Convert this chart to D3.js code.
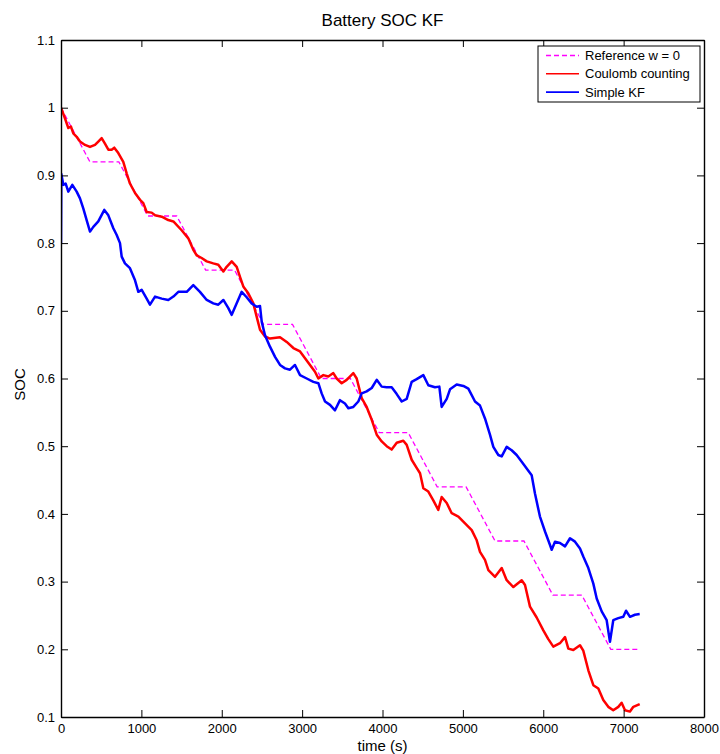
<!DOCTYPE html>
<html>
<head>
<meta charset="utf-8">
<script src="https://cdn.jsdelivr.net/npm/d3@7"></script>
<style>
  html, body { margin: 0; padding: 0; background: #fff; }
  text { font-family: "Liberation Sans", Arial, Helvetica, sans-serif; fill: #000; }
</style>
</head>
<body>
<svg id="chart" width="720" height="754"></svg>
<script>
// ---------- data ----------
const title = "Battery SOC KF";
const xLabel = "time (s)";
const yLabel = "SOC";
const xTicks = [0, 1000, 2000, 3000, 4000, 5000, 6000, 7000, 8000];
const yTicks = [0.1, 0.2, 0.3, 0.4, 0.5, 0.6, 0.7, 0.8, 0.9, 1, 1.1];
const seriesNames = ["Reference w = 0", "Coulomb counting", "Simple KF"];

// Reference (w = 0) breakpoints: [time, SOC]
const referenceSOC = [
  [0,1.00],[360,0.92],[720,0.92],[1080,0.84],[1440,0.84],[1800,0.76],[2160,0.76],
  [2520,0.68],[2880,0.68],[3240,0.60],[3600,0.60],[3960,0.52],[4320,0.52],
  [4680,0.44],[5040,0.44],[5400,0.36],[5760,0.36],[6120,0.28],[6480,0.28],
  [6840,0.20],[7200,0.20]
];

// Coulomb counting: [time, SOC]
const coulombSOC = [
  [0,1.000],[50,0.984],[91,0.970],[124,0.972],[153,0.962],[195,0.957],[236,0.950],
  [299,0.945],[361,0.942],[423,0.945],[464,0.950],[506,0.955],[547,0.947],[589,0.938],
  [630,0.938],[663,0.941],[713,0.933],[775,0.920],[817,0.903],[858,0.888],[921,0.874],
  [983,0.864],[1024,0.859],[1066,0.846],[1128,0.845],[1170,0.841],[1253,0.839],
  [1335,0.834],[1398,0.832],[1501,0.819],[1584,0.807],[1646,0.790],[1688,0.782],
  [1750,0.778],[1813,0.773],[1895,0.770],[1957,0.768],[2020,0.758],[2061,0.765],
  [2124,0.773],[2186,0.765],[2227,0.750],[2268,0.736],[2330,0.726],[2393,0.711],
  [2435,0.691],[2476,0.672],[2538,0.662],[2600,0.659],[2725,0.661],[2808,0.654],
  [2891,0.645],[2974,0.640],[3036,0.630],[3098,0.620],[3160,0.610],[3202,0.600],
  [3264,0.605],[3326,0.603],[3388,0.608],[3430,0.600],[3492,0.593],[3554,0.598],
  [3637,0.608],[3679,0.600],[3741,0.571],[3803,0.558],[3866,0.539],[3928,0.517],
  [3990,0.507],[4052,0.500],[4114,0.495],[4177,0.505],[4259,0.508],[4301,0.502],
  [4363,0.480],[4425,0.468],[4467,0.460],[4508,0.438],[4570,0.433],[4632,0.420],
  [4694,0.406],[4736,0.425],[4799,0.416],[4861,0.401],[4944,0.396],[5027,0.386],
  [5110,0.376],[5172,0.361],[5213,0.344],[5275,0.332],[5317,0.317],[5400,0.307],
  [5483,0.320],[5545,0.302],[5628,0.292],[5732,0.302],[5773,0.295],[5835,0.263],
  [5918,0.247],[6001,0.228],[6063,0.215],[6125,0.204],[6208,0.209],[6271,0.218],
  [6312,0.201],[6374,0.199],[6457,0.206],[6498,0.198],[6561,0.169],[6623,0.147],
  [6685,0.142],[6747,0.125],[6809,0.115],[6871,0.110],[6934,0.115],[6975,0.121],
  [7017,0.110],[7079,0.108],[7121,0.115],[7200,0.119]
];

// Simple KF: [time, SOC]
const kalmanSOC = [
  [0,0.800],[4,0.902],[29,0.886],[58,0.888],[91,0.876],[141,0.886],[195,0.876],
  [236,0.866],[278,0.851],[319,0.834],[361,0.817],[402,0.824],[464,0.832],[539,0.849],
  [589,0.841],[651,0.822],[693,0.812],[734,0.800],[755,0.780],[796,0.770],[858,0.763],
  [921,0.745],[962,0.728],[1004,0.731],[1066,0.718],[1107,0.709],[1170,0.721],
  [1253,0.718],[1335,0.716],[1398,0.721],[1460,0.728],[1564,0.728],[1646,0.738],
  [1729,0.728],[1813,0.716],[1895,0.711],[1957,0.709],[2020,0.716],[2082,0.704],
  [2124,0.694],[2186,0.711],[2248,0.728],[2310,0.720],[2372,0.711],[2435,0.706],
  [2476,0.707],[2497,0.684],[2538,0.664],[2600,0.647],[2663,0.632],[2725,0.620],
  [2787,0.615],[2849,0.613],[2911,0.620],[2974,0.605],[3057,0.600],[3140,0.595],
  [3202,0.593],[3243,0.578],[3285,0.566],[3347,0.561],[3409,0.553],[3471,0.568],
  [3533,0.563],[3575,0.556],[3637,0.558],[3699,0.566],[3741,0.578],[3803,0.581],
  [3866,0.586],[3928,0.598],[3990,0.588],[4052,0.587],[4114,0.587],[4177,0.577],
  [4239,0.566],[4301,0.570],[4363,0.595],[4425,0.599],[4508,0.605],[4570,0.590],
  [4653,0.587],[4707,0.588],[4736,0.558],[4799,0.570],[4840,0.584],[4923,0.591],
  [5006,0.589],[5068,0.585],[5151,0.566],[5213,0.560],[5275,0.541],[5337,0.517],
  [5379,0.499],[5441,0.487],[5483,0.485],[5545,0.499],[5607,0.494],[5669,0.487],
  [5732,0.477],[5794,0.467],[5856,0.457],[5897,0.430],[5959,0.396],[6022,0.374],
  [6084,0.354],[6105,0.347],[6146,0.359],[6208,0.357],[6271,0.352],[6333,0.364],
  [6395,0.359],[6457,0.349],[6498,0.337],[6561,0.320],[6623,0.297],[6665,0.275],
  [6727,0.256],[6789,0.243],[6830,0.211],[6871,0.243],[6934,0.246],[6996,0.248],
  [7030,0.257],[7079,0.248],[7141,0.251],[7200,0.252]
];

// ---------- layout ----------
const plot = { left: 61, right: 704, top: 40, bottom: 717 };
const svg = d3.select("#chart");

const x = d3.scaleLinear().domain([0, 8000]).range([plot.left, plot.right]);
const y = d3.scaleLinear().domain([0.1, 1.1]).range([plot.bottom, plot.top]);

const line = d3.line().x(d => x(d[0])).y(d => y(d[1]));

svg.append("defs").append("clipPath").attr("id", "clip")
  .append("rect").attr("x", plot.left).attr("y", plot.top)
  .attr("width", plot.right - plot.left).attr("height", plot.bottom - plot.top);

const lines = svg.append("g").attr("clip-path", "url(#clip)");

lines.append("path").datum(referenceSOC)
  .attr("d", line).attr("fill", "none")
  .attr("stroke", "#ff00ff").attr("stroke-width", 1.3)
  .attr("stroke-dasharray", "5,3");

lines.append("path").datum(coulombSOC)
  .attr("d", line).attr("fill", "none")
  .attr("stroke", "#ff0000").attr("stroke-width", 2.5)
  .attr("stroke-linejoin", "round");

lines.append("path").datum(kalmanSOC)
  .attr("d", line).attr("fill", "none")
  .attr("stroke", "#0000ff").attr("stroke-width", 2.5)
  .attr("stroke-linejoin", "round");

// ---------- axes (MATLAB style: box, inward ticks on all sides) ----------
const tickLen = 7;
const fmtY = d => (d === 1 ? "1" : d3.format(".1f")(d));

const axB = svg.append("g").attr("transform", `translate(0,${plot.bottom})`)
  .call(d3.axisBottom(x).tickValues(xTicks).tickSizeInner(-tickLen).tickSizeOuter(0).tickPadding(7).tickFormat(d3.format("d")));
const axT = svg.append("g").attr("transform", `translate(0,${plot.top})`)
  .call(d3.axisTop(x).tickValues(xTicks).tickSizeInner(-tickLen).tickSizeOuter(0).tickFormat(""));
const axL = svg.append("g").attr("transform", `translate(${plot.left},0)`)
  .call(d3.axisLeft(y).tickValues(yTicks).tickSizeInner(-tickLen).tickSizeOuter(0).tickPadding(6).tickFormat(fmtY));
const axR = svg.append("g").attr("transform", `translate(${plot.right},0)`)
  .call(d3.axisRight(y).tickValues(yTicks).tickSizeInner(-tickLen).tickSizeOuter(0).tickFormat(""));

[axB, axT, axL, axR].forEach(g => {
  g.select(".domain").attr("stroke", "#000").attr("stroke-width", 1.4);
  g.selectAll(".tick line").attr("stroke", "#000").attr("stroke-width", 1);
  g.selectAll(".tick text").attr("font-size", 13)
    .attr("font-family", "'Liberation Sans', Arial, Helvetica, sans-serif").attr("fill", "#000");
});

// ---------- titles ----------
svg.append("text").attr("x", (plot.left + plot.right) / 2).attr("y", 26)
  .attr("text-anchor", "middle").attr("font-size", 17).text(title);

svg.append("text").attr("x", (plot.left + plot.right) / 2).attr("y", 751)
  .attr("text-anchor", "middle").attr("font-size", 15).text(xLabel);

svg.append("text")
  .attr("transform", `translate(25,${(plot.top + plot.bottom) / 2 + 6}) rotate(-90)`)
  .attr("text-anchor", "middle").attr("font-size", 15).text(yLabel);

// ---------- legend ----------
const leg = { x: 538, y: 46, w: 162, h: 56 };
const lg = svg.append("g");
lg.append("rect").attr("x", leg.x).attr("y", leg.y).attr("width", leg.w).attr("height", leg.h)
  .attr("fill", "#fff").attr("stroke", "#000").attr("stroke-width", 1);
const legStyles = [
  { color: "#ff00ff", width: 1.3, dash: "5,3" },
  { color: "#ff0000", width: 1.6, dash: null },
  { color: "#0000ff", width: 1.6, dash: null }
];
seriesNames.forEach((name, i) => {
  const cy = leg.y + 9.5 + i * 18.3;
  const st = legStyles[i];
  const l = lg.append("line").attr("x1", leg.x + 8).attr("x2", leg.x + 41)
    .attr("y1", cy).attr("y2", cy)
    .attr("stroke", st.color).attr("stroke-width", st.width);
  if (st.dash) l.attr("stroke-dasharray", st.dash);
  lg.append("text").attr("x", leg.x + 47).attr("y", cy + 4.5)
    .attr("font-size", 13).text(name);
});
</script>
</body>
</html>
